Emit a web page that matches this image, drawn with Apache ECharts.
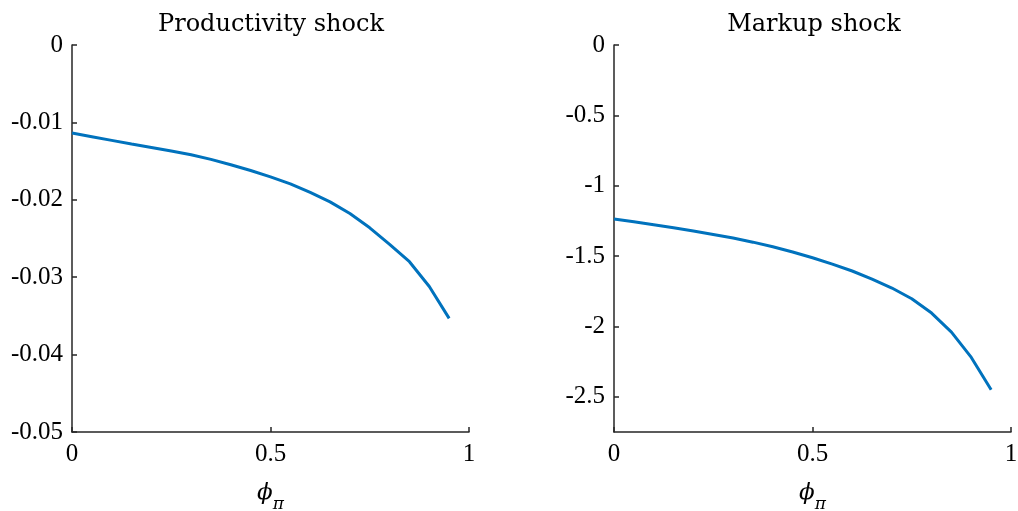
<!DOCTYPE html>
<html>
<head>
<meta charset="utf-8">
<script src="https://cdn.jsdelivr.net/npm/echarts@6/dist/echarts.min.js"></script>
<style>
  html, body { margin: 0; background: #fff; }
  #chart { width: 1018px; height: 511px; }
</style>
</head>
<body>
<div id="chart"></div>
<script>
// phi_pi grid
const phi = [0, 0.05, 0.1, 0.15, 0.2, 0.25, 0.3, 0.35, 0.4, 0.45,
             0.5, 0.55, 0.6, 0.65, 0.7, 0.75, 0.8, 0.85, 0.9, 0.95];
// productivity shock response
const productivity = [-0.01138, -0.01185, -0.01232, -0.01279, -0.01324, -0.0137, -0.01418, -0.01478, -0.01548, -0.01622,
                      -0.01704, -0.01794, -0.01905, -0.02027, -0.02178, -0.02362, -0.02575, -0.02800, -0.03120, -0.03532];
// markup shock response
const markup = [-1.236, -1.256, -1.277, -1.299, -1.322, -1.346, -1.372, -1.401, -1.434, -1.471,
                -1.512, -1.557, -1.606, -1.663, -1.727, -1.803, -1.905, -2.04, -2.22, -2.45];

const titles = ['Productivity shock', 'Markup shock'];
const xTicks = [0, 0.5, 1];
const productivityTicks = [0, -0.01, -0.02, -0.03, -0.04, -0.05];
const markupTicks = [0, -0.5, -1, -1.5, -2, -2.5];

const axisColor = '#262626';
const lineColor = '#0072BD';
const serif = 'Liberation Serif';

function xAxisOpt(idx) {
  return {
    type: 'value', gridIndex: idx, min: 0, max: 1,
    axisLine: { show: true, onZero: false, lineStyle: { color: axisColor, width: 1.5 } },
    axisTick: { show: true, inside: true, length: 5, customValues: xTicks, lineStyle: { color: axisColor, width: 1.5 } },
    axisLabel: { customValues: xTicks, color: '#000', fontFamily: serif, fontSize: 25, margin: 10 },
    splitLine: { show: false },
    name: '{a|ϕ}{b|π}',
    nameLocation: 'middle',
    nameGap: 42,
    nameTextStyle: {
      rich: {
        a: { fontFamily: 'DejaVu Serif', fontStyle: 'italic', fontSize: 23, color: '#000' },
        b: { fontFamily: 'DejaVu Serif', fontStyle: 'italic', fontSize: 17, color: '#000', padding: [22, 0, 0, 0] }
      }
    }
  };
}

function yAxisOpt(idx, min, ticks) {
  return {
    type: 'value', gridIndex: idx, min: min, max: 0,
    axisLine: { show: true, onZero: false, lineStyle: { color: axisColor, width: 1.5 } },
    axisTick: { show: true, inside: true, length: 5, customValues: ticks, lineStyle: { color: axisColor, width: 1.5 } },
    axisLabel: { customValues: ticks, color: '#000', fontFamily: serif, fontSize: 25, margin: 9,
                 formatter: v => String(v) },
    splitLine: { show: false }
  };
}

const chart = echarts.init(document.getElementById('chart'));
chart.setOption({
  animation: false,
  backgroundColor: '#fff',
  title: titles.map((t, i) => ({
    text: t,
    left: i === 0 ? 266 : 809,
    top: 8,
    textAlign: 'center',
    textStyle: { fontFamily: 'DejaVu Serif', fontWeight: 'normal', fontSize: 24, color: '#000' }
  })),
  grid: [
    { left: 72, top: 45, width: 397, height: 387, containLabel: false, outerBoundsMode: 'none' },
    { left: 614, top: 45, width: 397, height: 387, containLabel: false, outerBoundsMode: 'none' }
  ],
  xAxis: [xAxisOpt(0), xAxisOpt(1)],
  yAxis: [yAxisOpt(0, -0.05, productivityTicks), yAxisOpt(1, -2.75, markupTicks)],
  series: [
    {
      type: 'line', xAxisIndex: 0, yAxisIndex: 0, showSymbol: false,
      lineStyle: { color: lineColor, width: 3 },
      data: phi.map((p, i) => [p, productivity[i]])
    },
    {
      type: 'line', xAxisIndex: 1, yAxisIndex: 1, showSymbol: false,
      lineStyle: { color: lineColor, width: 3 },
      data: phi.map((p, i) => [p, markup[i]])
    }
  ]
});
</script>
</body>
</html>
